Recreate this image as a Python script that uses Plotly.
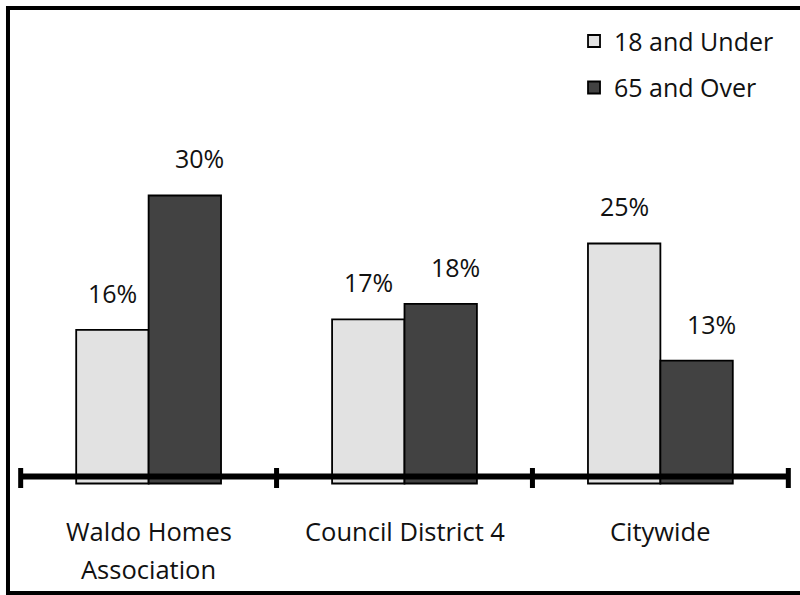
import plotly.graph_objects as go

categories = ["Waldo Homes Association", "Council District 4", "Citywide"]
category_lines = [["Waldo Homes", "Association"], ["Council District 4"], ["Citywide"]]
series_names = ["18 and Under", "65 and Over"]
under18 = [16.0, 17.1, 25.0]
over65 = [30.0, 18.7, 12.8]
under18_labels = ["16%", "17%", "25%"]
over65_labels = ["30%", "18%", "13%"]

LIGHT = "#E2E2E2"
DARK = "#424242"
FONT = "Open Sans"
BARGAP = 0.434

fig = go.Figure()
fig.add_trace(go.Bar(name=series_names[0], x=categories, y=under18,
                     marker=dict(color=LIGHT, line=dict(color="black", width=1.8)),
                     legendgroup="a"))
fig.add_trace(go.Bar(name=series_names[1], x=categories, y=over65,
                     marker=dict(color=DARK, line=dict(color="black", width=1.8)),
                     legendgroup="b"))

annotations = []
quarter = (1 - BARGAP) / 4
for i in range(len(categories)):
    annotations.append(dict(x=i - quarter, y=under18[i], xref="x", yref="y",
                            text=under18_labels[i], showarrow=False,
                            yanchor="bottom", yshift=18,
                            font=dict(family=FONT, size=25, color="#111")))
    annotations.append(dict(x=i + quarter, y=over65[i], xref="x", yref="y",
                            text=over65_labels[i], showarrow=False,
                            yanchor="bottom", yshift=18, xshift=15,
                            font=dict(family=FONT, size=25, color="#111")))
    for j, line in enumerate(category_lines[i]):
        annotations.append(dict(x=i, y=0, xref="x", yref="y", text=line,
                                showarrow=False, yanchor="middle",
                                yshift=-47 - 38 * j,
                                font=dict(family=FONT, size=25.5, color="#111")))

shapes = []
n = len(categories)
shapes.append(dict(type="line", xref="x", yref="y", ysizemode="pixel", yanchor=0,
                   x0=-0.5, x1=n - 0.5, y0=7, y1=7,
                   line=dict(color="black", width=6)))
for k in range(n + 1):
    shapes.append(dict(type="line", xref="x", yref="y", ysizemode="pixel", yanchor=0,
                       x0=k - 0.5, x1=k - 0.5, y0=-4.5, y1=15.5,
                       line=dict(color="black", width=5)))
# outer frame
shapes.append(dict(type="rect", xref="paper", yref="paper",
                   x0=-0.0064, x1=1.03, y0=-0.2021, y1=1.0041,
                   line=dict(color="black", width=4), fillcolor="rgba(0,0,0,0)"))

fig.update_layout(
    width=800, height=595,
    margin=dict(l=13, r=4, t=10, b=100),
    paper_bgcolor="white", plot_bgcolor="white",
    barmode="group", bargap=BARGAP, bargroupgap=0,
    font=dict(family=FONT, size=25, color="#111"),
    xaxis=dict(range=[-0.53, 2.53], showticklabels=False, showgrid=False,
               zeroline=False, showline=False, ticks=""),
    yaxis=dict(range=[-1.198, 49.32], visible=False, showgrid=False, zeroline=False),
    legend=dict(x=0.7165, y=0.983, xanchor="left", yanchor="top",
                traceorder="grouped", tracegroupgap=11,
                bgcolor="rgba(0,0,0,0)", font=dict(family=FONT, size=25, color="#111")),
    annotations=annotations,
    shapes=shapes,
    showlegend=True,
)

fig.write_html("out.html", config={"displayModeBar": False},
               post_script="document.body.style.margin='0';")
